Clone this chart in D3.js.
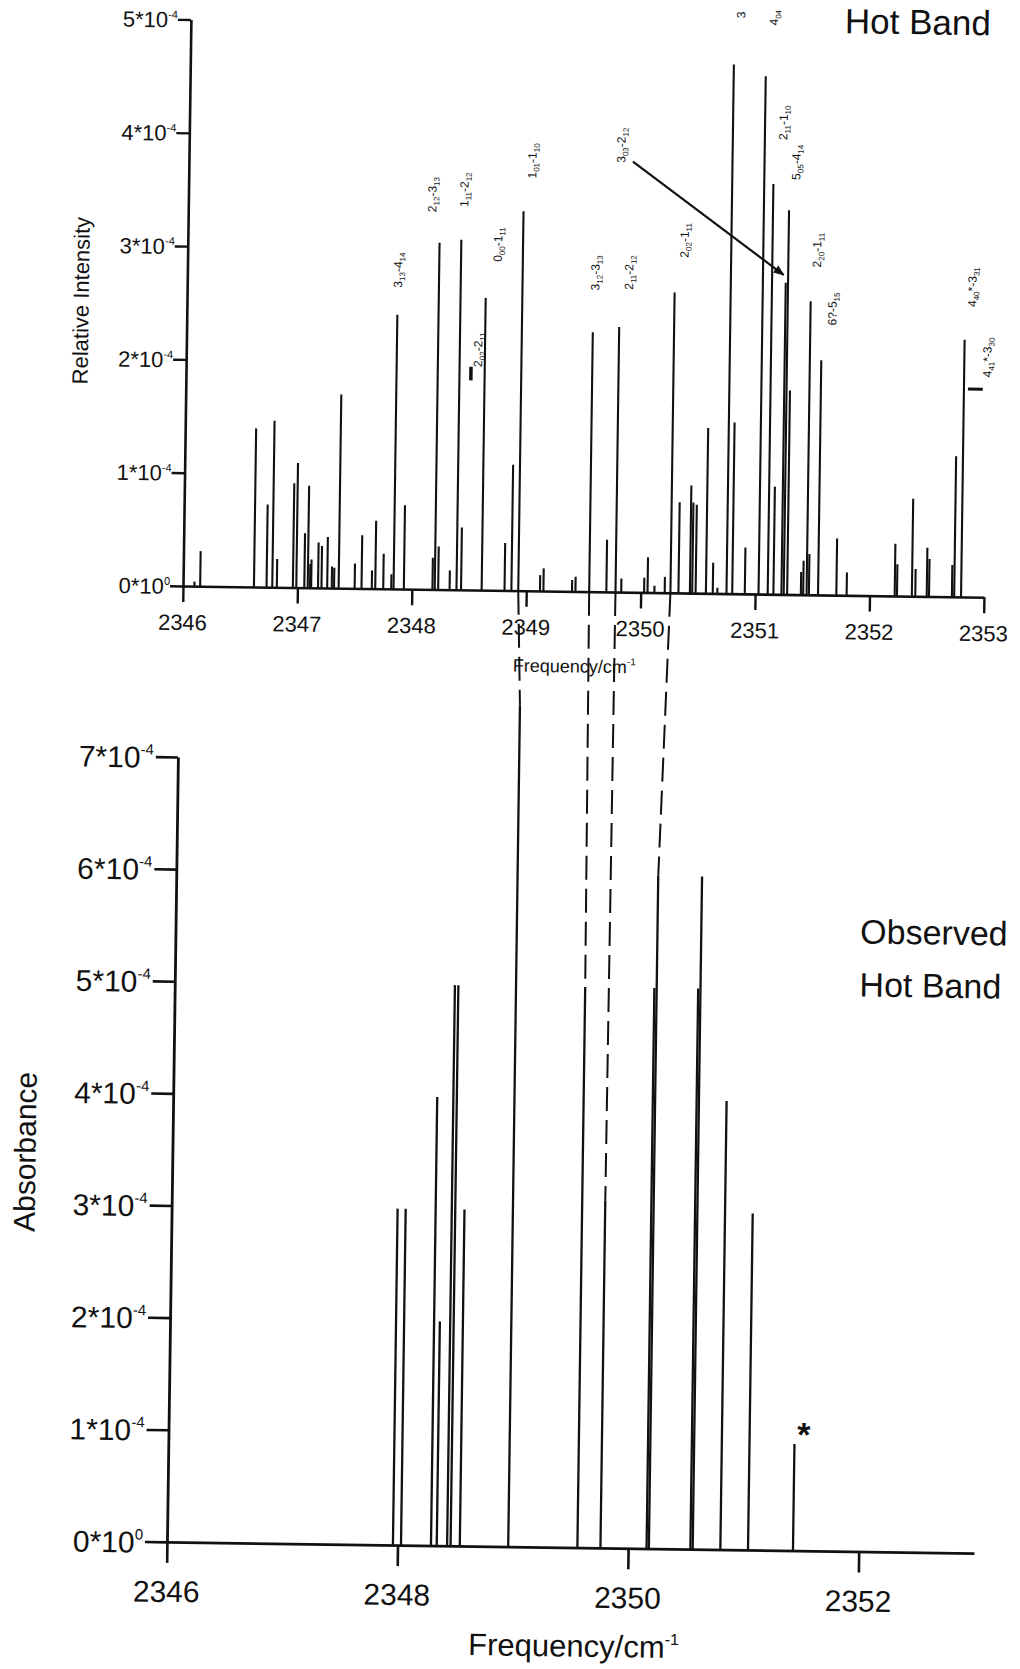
<!DOCTYPE html>
<html>
<head>
<meta charset="utf-8">
<script src="https://cdn.jsdelivr.net/npm/d3@7"></script>
<style>
  body { margin: 0; background: #fff; }
  svg { display: block; }
  text { font-family: "Liberation Sans", Arial, Helvetica, sans-serif; fill: #111; }
</style>
</head>
<body>
<svg id="chart" width="1020" height="1669"></svg>
<script>
// ---- calculated hot band: stick positions (cm^-1) and relative intensity (units of 1e-4)
const calcFreq = [2346.10,2346.15,2346.62,2346.73,2346.78,2346.82,2346.96,2346.99,2347.06,2347.09,
  2347.11,2347.12,2347.18,2347.21,2347.26,2347.30,2347.32,2347.36,2347.50,2347.56,
  2347.65,2347.68,2347.75,2347.82,2347.84,2347.93,2348.18,2348.20,2348.23,2348.33,
  2348.39,2348.43,2348.61,2348.81,2348.87,2348.93,2349.12,2349.15,2349.40,2349.43,
  2349.55,2349.70,2349.78,2349.83,2350.03,2350.06,2350.12,2350.21,2350.26,2350.33,
  2350.43,2350.45,2350.48,2350.57,2350.63,2350.67,2350.75,2350.80,2350.91,2351.03,
  2351.11,2351.16,2351.23,2351.25,2351.28,2351.40,2351.42,2351.45,2351.47,2351.55,
  2351.71,2351.80,2352.22,2352.24,2352.37,2352.40,2352.50,2352.52,2352.72,2352.74,2352.80];
const calcInt = [0.04,0.31,1.40,0.73,1.47,0.25,0.92,1.10,0.48,0.90,
  0.21,0.25,0.40,0.37,0.45,0.19,0.18,1.71,0.22,0.47,
  0.16,0.60,0.31,0.13,2.42,0.74,0.28,3.06,0.38,0.17,
  3.09,0.55,2.58,0.42,1.11,3.35,0.14,0.20,0.10,0.13,
  2.29,0.46,2.34,0.12,0.13,0.31,0.06,0.14,2.65,0.80,
  0.95,0.80,0.78,1.46,0.27,0.05,4.67,1.51,0.41,4.57,
  3.62,0.95,2.75,3.39,1.80,0.20,0.30,2.59,0.36,2.07,
  0.50,0.20,0.46,0.28,0.86,0.24,0.43,0.33,0.28,1.24,2.27];

// ---- observed hot band: line positions (cm^-1) and absorbance (units of 1e-4)
const obsFreq = [2347.96,2348.03,2348.29,2348.34,2348.43,2348.46,2348.54,2348.96,2349.56,
  2349.76,2350.16,2350.18,2350.54,2350.56,2350.80,2351.04,2351.43];
const obsAbs = [3.0,3.0,4.0,2.0,5.0,5.0,3.0,7.5,5.0,3.1,5.0,6.0,5.0,6.0,4.0,3.0,0.95];

// ---- axis ticks
const calcXTicks = [2346,2347,2348,2349,2350,2351,2352,2353];
const calcYTicks = [0,1,2,3,4,5];
const obsXTicks = [2346,2348,2350,2352];
const obsYTicks = [0,1,2,3,4,5,6,7];

// ---- assignments written above the calculated sticks (anchor: frequency, intensity where text starts)
const asgText = ["3_{13}-4_{14}","2_{12}-3_{13}","1_{11}-2_{12}","0_{00}-1_{11}","2_{02}-2_{11}",
  "1_{01}-1_{10}","3_{12}-3_{13}","2_{11}-2_{12}","2_{02}-1_{11}","3_{03}-2_{12}",
  "2_{11}-1_{10}","5_{05}-4_{14}","2_{20}-1_{11}","6?-5_{15}","4_{40}*-3_{31}",
  "4_{41}*-3_{30}","3","4_{04}"];
const asgFreq = [2347.84,2348.13,2348.41,2348.71,2348.55,2349.00,2349.565,2349.86,2350.34,2349.776,
  2351.19,2351.307,2351.50,2351.64,2352.86,2353.00,2350.806,2351.095];
const asgInt = [2.66,3.33,3.38,2.90,1.97,3.64,2.66,2.67,2.96,3.79,
  4.01,3.66,2.89,2.38,2.56,1.94,5.08,5.02];

// pointer from the 3_{03}-2_{12} label to its stick
const pointerFreq = [2349.88, 2351.21];
const pointerInt = [3.80, 2.82];

// calculated sticks matched to observed lines (observed index)
const linkCalcFreq = [2348.93, 2349.55, 2349.78, 2350.26];
const linkObsIndex = [7, 8, 9, 11];

// unassigned observed line marker
const starFreq = 2351.51, starAbs = 1.12;

// ---------------------------------------------------------------
const svg = d3.select("#chart");
const defs = svg.append("defs");
defs.append("marker").attr("id", "head")
  .attr("viewBox", "0 0 10 10").attr("refX", 9).attr("refY", 5)
  .attr("markerWidth", 5).attr("markerHeight", 5).attr("orient", "auto")
  .append("path").attr("d", "M0,1 L10,5 L0,9 Z").attr("fill", "#111");

// the whole sheet sits slightly tilted
const sheet = svg.append("g").attr("transform", "rotate(0.8,183,586)");

// text with _{sub} and ^{sup} parts
function rich(sel, str, size, small, shift) {
  const parts = str.match(/_\{[^}]*\}|\^\{[^}]*\}|[^_^]+/g);
  let off = 0;
  parts.forEach(p => {
    let t = p, target = 0, fs = size;
    if (p.startsWith("_{")) { t = p.slice(2, -1); target = shift; fs = small; }
    else if (p.startsWith("^{")) { t = p.slice(2, -1); target = -shift; fs = small; }
    sel.append("tspan").attr("dy", target - off).attr("font-size", fs).text(t);
    off = target;
  });
}

// ================= calculated spectrum =================
const xTop = d3.scaleLinear().domain([2346, 2353]).range([183, 984]);
const yTop = d3.scaleLinear().domain([0, 5]).range([586, 19.5]);
const gTop = sheet.append("g");

gTop.selectAll("line.stick").data(calcFreq).join("line")
  .attr("class", "stick")
  .attr("x1", d => xTop(d)).attr("x2", d => xTop(d))
  .attr("y1", yTop(0)).attr("y2", (d, i) => yTop(calcInt[i]))
  .attr("stroke", "#111").attr("stroke-width", 2.1);

const axTopX = gTop.append("g").attr("transform", `translate(0,${yTop(0)})`)
  .call(d3.axisBottom(xTop).tickValues(calcXTicks).tickSize(16).tickSizeOuter(0).tickFormat(""));
const axTopY = gTop.append("g").attr("transform", `translate(${xTop(2346)},0)`)
  .call(d3.axisLeft(yTop).tickValues(calcYTicks).tickSize(13).tickSizeOuter(0).tickFormat(""));
[axTopX, axTopY].forEach(a => {
  a.select(".domain").attr("stroke", "#111").attr("stroke-width", 2.6);
  a.selectAll(".tick line").attr("stroke", "#111").attr("stroke-width", 2.4);
});

gTop.selectAll("text.xt").data(calcXTicks).join("text").attr("class", "xt")
  .attr("x", d => xTop(d)).attr("y", yTop(0) + 44)
  .attr("text-anchor", "middle").attr("font-size", 22).text(d => d);

gTop.selectAll("text.yt").data(calcYTicks).join("text").attr("class", "yt")
  .attr("x", xTop(2346) - 13).attr("y", d => yTop(d) + 8)
  .attr("text-anchor", "end")
  .each(function (d) { rich(d3.select(this), d + "*10^{" + (d === 0 ? "0" : "-4") + "}", 22, 11, 9); });

gTop.append("text")
  .attr("transform", "translate(77,302) rotate(-90)").attr("y", 7.7)
  .attr("text-anchor", "middle").attr("font-size", 22).text("Relative Intensity");

gTop.append("text").attr("x", 514).attr("y", 667)
  .call(s => rich(s, "Frequency/cm^{-1}", 18, 10, 8));

gTop.append("text").attr("x", 837).attr("y", 24).attr("font-size", 35).text("Hot Band");

// assignments
gTop.selectAll("text.asg").data(asgText).join("text").attr("class", "asg")
  .attr("transform", (d, i) => `translate(${xTop(asgFreq[i])},${yTop(asgInt[i])}) rotate(-90)`)
  .attr("y", 4.2)
  .each(function (d) { rich(d3.select(this), d, 12, 8, 3); });

// small position marks next to two of the assignments
gTop.append("line")
  .attr("x1", xTop(2348.49)).attr("x2", xTop(2348.49))
  .attr("y1", yTop(1.85)).attr("y2", yTop(1.97))
  .attr("stroke", "#111").attr("stroke-width", 3.5);
gTop.append("line")
  .attr("x1", xTop(2352.835)).attr("x2", xTop(2352.965))
  .attr("y1", yTop(1.836)).attr("y2", yTop(1.836))
  .attr("stroke", "#111").attr("stroke-width", 3);

// pointer
gTop.append("line")
  .attr("x1", xTop(pointerFreq[0])).attr("y1", yTop(pointerInt[0]))
  .attr("x2", xTop(pointerFreq[1])).attr("y2", yTop(pointerInt[1]))
  .attr("stroke", "#111").attr("stroke-width", 2.2).attr("marker-end", "url(#head)");

// ================= observed spectrum =================
const xBot = d3.scaleLinear().domain([2346, 2353]).range([180.3, 987.4]);
const yBot = d3.scaleLinear().domain([0, 7]).range([1542, 757]);
const gBot = sheet.append("g");

gBot.selectAll("line.obs").data(obsFreq).join("line")
  .attr("class", "obs")
  .attr("x1", d => xBot(d)).attr("x2", d => xBot(d))
  .attr("y1", yBot(0)).attr("y2", (d, i) => yBot(obsAbs[i]))
  .attr("stroke", "#111").attr("stroke-width", 2.3);

const axBotX = gBot.append("g").attr("transform", `translate(0,${yBot(0)})`)
  .call(d3.axisBottom(xBot).tickValues(obsXTicks).tickSize(21).tickSizeOuter(0).tickFormat(""));
const axBotY = gBot.append("g").attr("transform", `translate(${xBot(2346)},0)`)
  .call(d3.axisLeft(yBot).tickValues(obsYTicks).tickSize(22).tickSizeOuter(0).tickFormat(""));
[axBotX, axBotY].forEach(a => {
  a.select(".domain").attr("stroke", "#111").attr("stroke-width", 2.8);
  a.selectAll(".tick line").attr("stroke", "#111").attr("stroke-width", 2.6);
});

gBot.selectAll("text.xt").data(obsXTicks).join("text").attr("class", "xt")
  .attr("x", d => xBot(d)).attr("y", yBot(0) + 60)
  .attr("text-anchor", "middle").attr("font-size", 30).text(d => d);

gBot.selectAll("text.yt").data(obsYTicks).join("text").attr("class", "yt")
  .attr("x", xBot(2346) - 24).attr("y", d => yBot(d) + 11)
  .attr("text-anchor", "end")
  .each(function (d) { rich(d3.select(this), d + "*10^{" + (d === 0 ? "0" : "-4") + "}", 30, 15, 13); });

gBot.append("text")
  .attr("transform", "translate(33,1154) rotate(-90)").attr("y", 10.5)
  .attr("text-anchor", "middle").attr("font-size", 30).text("Absorbance");

gBot.append("text").attr("x", 483).attr("y", 1651)
  .call(s => rich(s, "Frequency/cm^{-1}", 31, 16, 13));

gBot.append("text").attr("x", 865).attr("y", 934).attr("font-size", 34).text("Observed");
gBot.append("text").attr("x", 865).attr("y", 987).attr("font-size", 34).text("Hot Band");

gBot.append("text").attr("x", xBot(starFreq)).attr("y", yBot(starAbs))
  .attr("dy", "0.62em").attr("text-anchor", "middle")
  .attr("font-size", 34).attr("font-weight", "bold").text("*");

// ================= links between calculated and observed lines =================
sheet.selectAll("line.link").data(linkCalcFreq).join("line").attr("class", "link")
  .attr("x1", d => xTop(d)).attr("y1", yTop(0))
  .attr("x2", (d, i) => xBot(obsFreq[linkObsIndex[i]]))
  .attr("y2", (d, i) => yBot(obsAbs[linkObsIndex[i]]))
  .attr("stroke", "#111").attr("stroke-width", 2).attr("stroke-dasharray", "24,9");
</script>
</body>
</html>
